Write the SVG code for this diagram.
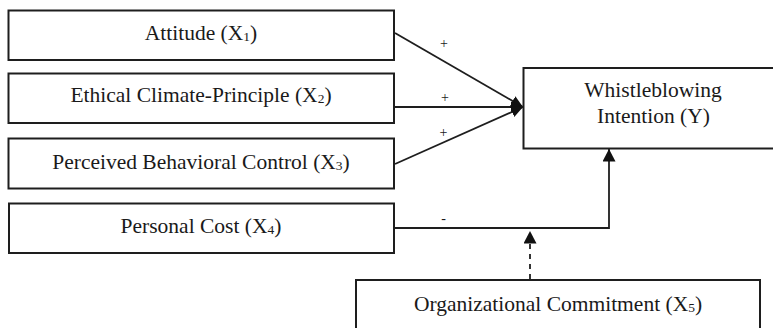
<svg xmlns="http://www.w3.org/2000/svg" width="773" height="328" viewBox="0 0 773 328">
  <style>
    .box { fill: #ffffff; stroke: #1e1e1e; stroke-width: 2; }
    .lbl { font-family: "Liberation Serif", "Times New Roman", serif; font-size: 21.5px; fill: #1a1a1a; text-anchor: middle; }
    .sub { font-size: 13.5px; }
    .sign { font-family: "Liberation Serif", "Times New Roman", serif; font-size: 14px; fill: #1a1a1a; text-anchor: middle; }
    .conn { fill: none; stroke: #1e1e1e; stroke-width: 1.8; }
    .dash { stroke-dasharray: 5 5; }
  </style>
  <defs>
    <marker id="arrow" markerWidth="12" markerHeight="12" viewBox="0 0 12 12" refX="12" refY="6" orient="auto" markerUnits="userSpaceOnUse">
      <path d="M0,0.5 L12,6 L0,11.5 Z" fill="#111"/>
    </marker>
    <marker id="arrowv" markerWidth="13" markerHeight="13" viewBox="0 0 13 13" refX="12.5" refY="6.5" orient="auto" markerUnits="userSpaceOnUse">
      <path d="M0,0 L12.5,6.5 L0,13 Z" fill="#111"/>
    </marker>
  </defs>

  <rect width="773" height="328" fill="#ffffff"/>

  <g id="connectors">
    <line class="conn" x1="395" y1="33" x2="523" y2="107" marker-end="url(#arrow)"/>
    <line class="conn" x1="395" y1="107" x2="523" y2="107" marker-end="url(#arrow)"/>
    <line class="conn" x1="395" y1="164" x2="523" y2="107" marker-end="url(#arrow)"/>
    <polyline class="conn" points="395,228 609,228 609,149" marker-end="url(#arrowv)"/>
    <line class="conn dash" x1="530" y1="279" x2="530" y2="231" marker-end="url(#arrowv)"/>
    <text class="sign" x="444" y="47.5">+</text>
    <text class="sign" x="445" y="102">+</text>
    <text class="sign" x="443.5" y="137">+</text>
    <text class="sign" x="443.5" y="222.5">-</text>
  </g>

  <g id="x1">
    <rect class="box" x="8.5" y="10.5" width="385.5" height="49.5"/>
    <text class="lbl" x="201" y="40">Attitude (X<tspan class="sub" dy="1">1</tspan><tspan dy="-1">)</tspan></text>
  </g>
  <g id="x2">
    <rect class="box" x="8.5" y="73.5" width="385.5" height="49.5"/>
    <text class="lbl" x="201" y="101.7">Ethical Climate-Principle (X<tspan class="sub" dy="1">2</tspan><tspan dy="-1">)</tspan></text>
  </g>
  <g id="x3">
    <rect class="box" x="8.5" y="138.5" width="385.5" height="50"/>
    <text class="lbl" x="201" y="169.3">Perceived Behavioral Control (X<tspan class="sub" dy="1">3</tspan><tspan dy="-1">)</tspan></text>
  </g>
  <g id="x4">
    <rect class="box" x="9" y="203.5" width="385" height="49.5"/>
    <text class="lbl" x="201" y="232.7">Personal Cost (X<tspan class="sub" dy="1">4</tspan><tspan dy="-1">)</tspan></text>
  </g>
  <g id="y">
    <rect class="box" x="523.5" y="68" width="260" height="80.5"/>
    <text class="lbl" x="653" y="96.7">Whistleblowing</text>
    <text class="lbl" x="653.5" y="123.3">Intention (Y)</text>
  </g>
  <g id="x5">
    <rect class="box" x="356" y="280" width="404" height="60"/>
    <text class="lbl" x="558" y="311">Organizational Commitment (X<tspan class="sub" dy="1">5</tspan><tspan dy="-1">)</tspan></text>
  </g>
</svg>
